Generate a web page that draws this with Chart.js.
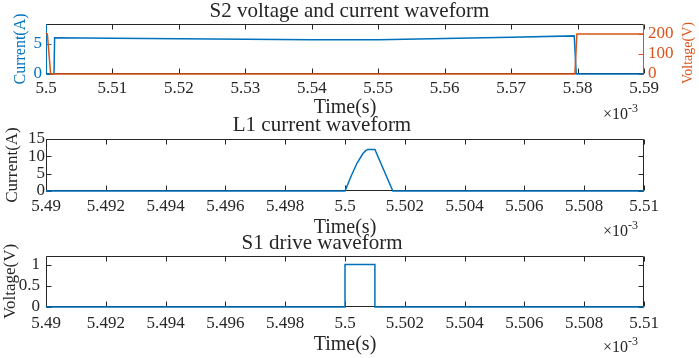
<!DOCTYPE html>
<html>
<head>
<meta charset="utf-8">
<script src="https://cdn.jsdelivr.net/npm/chart.js@4.4.1/dist/chart.umd.min.js"></script>
<style>
    html, body { margin: 0; padding: 0; background: #ffffff; }
    body { width: 699px; height: 358px; position: relative; overflow: hidden; }
    canvas { position: absolute; left: 0; }
</style>
</head>
<body>
<canvas id="s2Chart" width="699" height="120" style="top:0px"></canvas>
<canvas id="l1Chart" width="699" height="126" style="top:114px"></canvas>
<canvas id="s1Chart" width="699" height="125" style="top:232px"></canvas>
<script>
// Waveform data, time in units of 1e-3 s
const s2Time = [5.5, 5.5012, 5.5013, 5.51, 5.52, 5.53, 5.54, 5.55, 5.56, 5.57, 5.5795, 5.5798, 5.59];
const s2Current = [0, 0, 6.05, 5.97, 5.88, 5.78, 5.7, 5.72, 5.9, 6.12, 6.35, 0, 0];
const s2VoltTime = [5.5, 5.5002, 5.5007, 5.5796, 5.5799, 5.59];
const s2Voltage = [205, 200, 0, 0, 200, 200];

const l1Time = [5.49, 5.5, 5.5002, 5.5004, 5.5006, 5.5007, 5.50077, 5.501, 5.5016, 5.51];
const l1Current = [0, 0, 4.2, 8, 10.8, 11.7, 12, 12, 0, 0];

const s1Time = [5.49, 5.5, 5.5, 5.501, 5.501, 5.51];
const s1Drive = [0, 0, 1, 1, 0, 0];

// Tick labels
const s2TimeTicks = [5.5, 5.51, 5.52, 5.53, 5.54, 5.55, 5.56, 5.57, 5.58, 5.59];
const s2CurrentTicks = [0, 5];
const s2VoltageTicks = [0, 100, 200];
const zoomTimeTicks = [5.49, 5.492, 5.494, 5.496, 5.498, 5.5, 5.502, 5.504, 5.506, 5.508, 5.51];
const l1CurrentTicks = [0, 5, 10, 15];
const s1DriveTicks = [0, 0.5, 1];

const FONT = '"Liberation Serif", "Times New Roman", serif';
const AXIS = '#262626';
const BLUE = '#0072BD';
const ORANGE = '#D95319';

const toPoints = (xs, ys) => xs.map((x, i) => ({ x, y: ys[i] }));
const fmt = v => String(+Number(v).toFixed(3));
const fixedTicks = values => scale => { scale.ticks = values.map(v => ({ value: v })); };

// MATLAB style box with inward ticks and the x10^-3 exponent label
const matlabAxes = {
    id: 'matlabAxes',
    beforeDatasetsDraw(chart, args, opts) {
        const { ctx, chartArea: a, scales } = chart;
        const L = Math.round(a.left) + 0.5, R = Math.round(a.right) - 0.5;
        const T = Math.round(a.top) + 0.5, B = Math.round(a.bottom) - 0.5;
        const len = 5;
        ctx.save();
        ctx.lineWidth = 1;

        ctx.strokeStyle = AXIS;
        ctx.beginPath();
        scales.x.ticks.forEach(t => {
            const px = Math.round(scales.x.getPixelForValue(t.value)) + 0.5;
            ctx.moveTo(px, T); ctx.lineTo(px, T + len);
            ctx.moveTo(px, B); ctx.lineTo(px, B - len);
        });
        ctx.moveTo(L, T); ctx.lineTo(R, T);
        ctx.moveTo(L, B); ctx.lineTo(R, B);
        ctx.stroke();

        const yL = scales.y, yR = scales[opts.rightScale || 'y'];
        ctx.strokeStyle = opts.leftColor || AXIS;
        ctx.beginPath();
        yL.ticks.forEach(t => {
            const py = Math.round(yL.getPixelForValue(t.value)) + 0.5;
            ctx.moveTo(L, py); ctx.lineTo(L + len, py);
        });
        ctx.moveTo(L, T); ctx.lineTo(L, B);
        ctx.stroke();

        ctx.strokeStyle = opts.rightColor || AXIS;
        ctx.beginPath();
        yR.ticks.forEach(t => {
            const py = Math.round(yR.getPixelForValue(t.value)) + 0.5;
            ctx.moveTo(R, py); ctx.lineTo(R - len, py);
        });
        ctx.moveTo(R, T); ctx.lineTo(R, B);
        ctx.stroke();
        ctx.restore();
    },
    afterDraw(chart, args, opts) {
        const { ctx, chartArea: a } = chart;
        ctx.save();
        ctx.fillStyle = AXIS;
        ctx.textBaseline = 'middle';
        ctx.textAlign = 'left';
        ctx.font = `16px ${FONT}`;
        ctx.fillText('\u00d710', 603, a.bottom + 41);
        ctx.font = `12px ${FONT}`;
        ctx.fillText('-3', 628, a.bottom + 35);

        if (opts.rightTitle) {
            ctx.fillStyle = opts.rightColor;
            ctx.font = `14px ${FONT}`;
            ctx.textAlign = 'center';
            ctx.translate(688, (a.top + a.bottom) / 2 + 4);
            ctx.rotate(-Math.PI / 2);
            ctx.fillText(opts.rightTitle, 0, 0);
        }
        ctx.restore();
    }
};

function timeScale(ticks, height, labelPad) {
    return {
        type: 'linear',
        min: ticks[0],
        max: ticks[ticks.length - 1],
        afterBuildTicks: fixedTicks(ticks),
        afterFit: s => { s.height = height; },
        grid: { display: false, drawTicks: false },
        border: { display: false },
        ticks: {
            color: AXIS,
            font: { family: FONT, size: 17 },
            padding: labelPad,
            maxRotation: 0,
            autoSkip: false,
            callback: fmt
        },
        title: {
            display: true,
            text: 'Time(s)',
            color: AXIS,
            font: { family: FONT, size: 20, lineHeight: 1.2 },
            padding: 0
        }
    };
}

function valueScale({ ticks, max, position = 'left', color = AXIS, label, labelSize = 17, titlePad = 0, labelPad = 4, width }) {
    return {
        type: 'linear',
        position,
        min: 0,
        max,
        afterBuildTicks: fixedTicks(ticks),
        afterFit: s => { s.width = width; },
        grid: { display: false, drawTicks: false },
        border: { display: false },
        ticks: { color, font: { family: FONT, size: 17 }, padding: labelPad, autoSkip: false, callback: fmt },
        title: {
            display: !!label,
            text: label || '',
            color,
            font: { family: FONT, size: labelSize, lineHeight: 1.2 },
            padding: { top: titlePad, bottom: 0 }
        }
    };
}

function lineSet(label, xs, ys, color, axis = 'y') {
    return {
        label,
        data: toPoints(xs, ys),
        borderColor: color,
        borderWidth: 1.5,
        pointRadius: 0,
        tension: 0,
        fill: false,
        clip: 4,
        yAxisID: axis
    };
}

function baseOptions(title, titlePadBottom, rightPad, scales, axesOpts) {
    return {
        responsive: false,
        animation: false,
        events: [],
        layout: { padding: { left: 0, right: rightPad, top: 0, bottom: 0 } },
        scales,
        plugins: {
            legend: { display: false },
            tooltip: { enabled: false },
            title: {
                display: true,
                text: title,
                color: AXIS,
                font: { family: FONT, size: 21, weight: 'normal', lineHeight: 1 },
                padding: { top: 0.5, bottom: titlePadBottom }
            },
            matlabAxes: axesOpts
        }
    };
}

// S2 voltage and current
new Chart(document.getElementById('s2Chart'), {
    type: 'line',
    data: {
        datasets: [
            lineSet('Voltage', s2VoltTime, s2Voltage, ORANGE, 'y1'),
            lineSet('Current', s2Time, s2Current, BLUE, 'y')
        ]
    },
    options: baseOptions('S2 voltage and current waveform', 2.5, 0, {
        x: timeScale(s2TimeTicks, 46, 4.3),
        y: valueScale({ ticks: s2CurrentTicks, max: 8.33, color: BLUE, label: 'Current(A)', labelSize: 16, titlePad: 11.4, labelPad: 4, width: 46 }),
        y1: valueScale({ ticks: s2VoltageTicks, max: 250, position: 'right', color: ORANGE, labelPad: 4, width: 55 })
    }, { leftColor: BLUE, rightColor: ORANGE, rightScale: 'y1', rightTitle: 'Voltage(V)' }),
    plugins: [matlabAxes]
});

// L1 current
new Chart(document.getElementById('l1Chart'), {
    type: 'line',
    data: { datasets: [lineSet('L1 current', l1Time, l1Current, BLUE)] },
    options: baseOptions('L1 current waveform', 3.5, 55, {
        x: timeScale(zoomTimeTicks, 49, 5.8),
        y: valueScale({ ticks: l1CurrentTicks, max: 15, label: 'Current(A)', titlePad: 2, labelPad: 1, width: 46 })
    }, {}),
    plugins: [matlabAxes]
});

// S1 drive
new Chart(document.getElementById('s1Chart'), {
    type: 'line',
    data: { datasets: [lineSet('S1 drive', s1Time, s1Drive, BLUE)] },
    options: baseOptions('S1 drive waveform', 2.5, 55, {
        x: timeScale(zoomTimeTicks, 50, 6.8),
        y: valueScale({ ticks: s1DriveTicks, max: 1.2, label: 'Voltage(V)', titlePad: 0, labelPad: 6, width: 46 })
    }, {}),
    plugins: [matlabAxes]
});
</script>
</body>
</html>
